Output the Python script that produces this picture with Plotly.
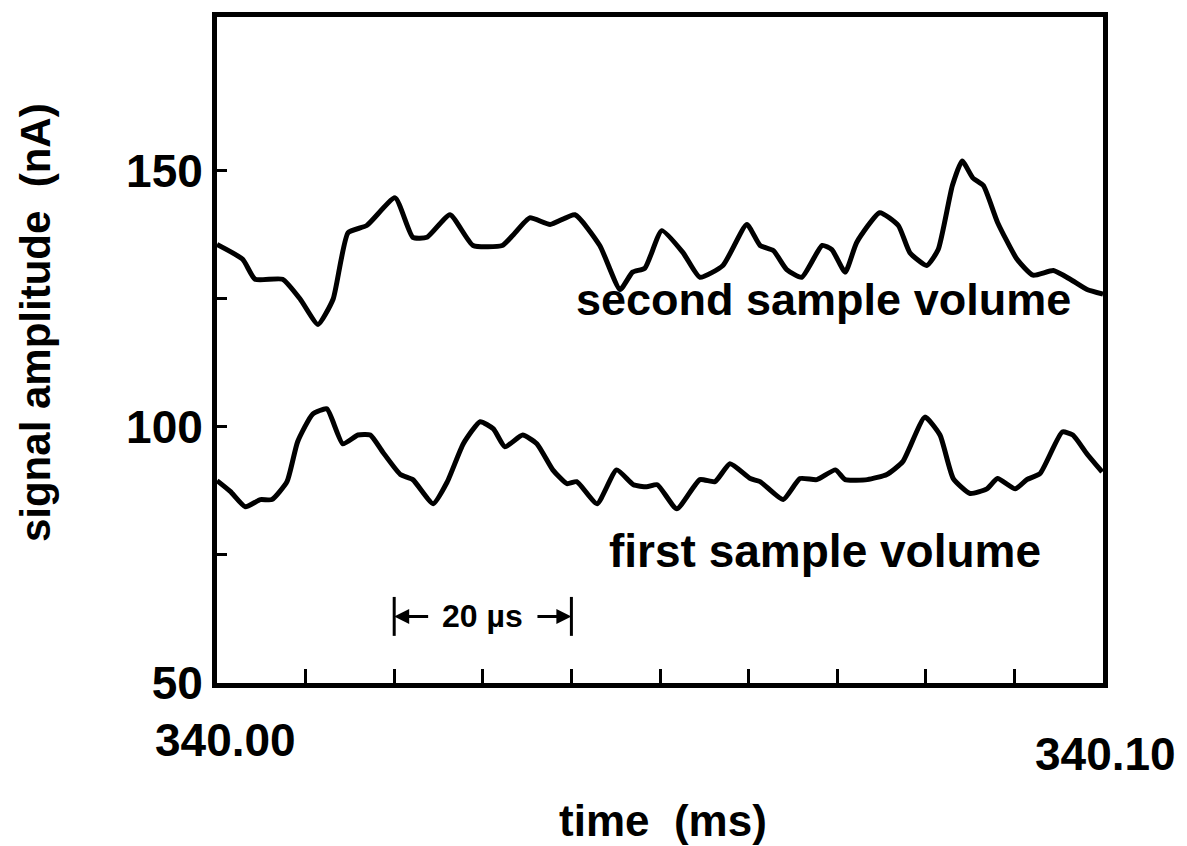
import plotly.graph_objects as go

# time offsets in microseconds after 340.00 ms
second_t_us = [0, 2.9, 4.3, 7.4, 9.4, 11.4, 13.1, 14.8, 16.9, 20.1, 22.1, 23.7, 26.3, 28.9,
               32.2, 33.4, 35.3, 37.6, 40.4, 43.2, 45.5, 46.9, 48.3, 50.2, 52.6, 54.5, 57.1,
               59.8, 61.3, 62.8, 64.3, 66.0, 68.3, 69.4, 70.9, 72.2, 74.8, 76.9, 78.2, 80.1,
               81.4, 83.0, 84.1, 85.3, 86.5, 88.1, 90.3, 92.1, 94.4, 96.3, 98.2, 100]
second_nA = [135.6, 132.7, 128.8, 128.8, 124.9, 120.0, 124.9, 137.9, 139.3, 144.7, 137.0, 137.0,
             141.4, 135.4, 135.4, 137.4, 140.8, 139.5, 141.4, 135.4, 126.8, 130.2, 131.0, 138.3,
             134.0, 129.2, 131.5, 139.5, 135.4, 134.4, 130.7, 129.2, 135.4, 134.6, 130.2, 136.0,
             141.8, 139.3, 134.0, 131.5, 134.6, 147.1, 151.9, 148.6, 147.1, 139.9, 132.7, 129.6,
             130.5, 128.8, 126.8, 125.9]

first_t_us = [0, 1.5, 3.2, 4.9, 6.2, 7.9, 9.1, 10.8, 12.4, 14.2, 15.9, 17.3, 18.7, 20.7, 22.1,
              24.4, 26.0, 27.8, 29.7, 31.2, 32.5, 34.5, 36.1, 37.9, 39.5, 40.6, 42.9, 45.1, 47.0,
              48.5, 49.7, 51.9, 54.5, 56.2, 57.9, 60.2, 61.3, 63.9, 65.8, 67.7, 69.8, 70.9, 73.4,
              75.6, 77.4, 79.9, 81.6, 83.1, 85.0, 86.9, 88.1, 90.1, 91.4, 92.9, 95.4, 96.6, 98.2,
              99.9]
first_nA = [89.5, 87.4, 84.4, 85.8, 85.8, 89.3, 97.1, 102.5, 103.5, 96.7, 98.4, 98.4, 95.1, 90.7,
            89.7, 85.0, 89.3, 96.7, 101.0, 99.6, 96.1, 98.4, 96.7, 91.6, 88.9, 89.3, 85.0, 91.6,
            88.7, 88.3, 88.7, 84.0, 89.7, 89.3, 92.8, 89.9, 89.3, 85.8, 89.9, 89.7, 91.6, 89.7,
            89.7, 90.7, 93.2, 101.9, 98.4, 89.9, 87.0, 87.9, 89.9, 87.9, 89.7, 90.9, 99.0, 98.4,
            94.7, 91.2]

t0_ms = 340.00
x_tick_vals = [340.00, 340.01, 340.02, 340.03, 340.04, 340.05, 340.06, 340.07, 340.08, 340.09, 340.10]
x_tick_labels = ["340.00", "340.10"]
y_tick_vals = [50, 75, 100, 125, 150]
y_tick_text = ["50", "", "100", "", "150"]
labels = ["second sample volume", "first sample volume"]
scale_bar_start_ms = 340.02
scale_bar_len_us = 20
scale_bar_y = 63

FONT = "Liberation Sans, Arial, sans-serif"


def to_ms(us_list):
    return [t0_ms + u / 1000.0 for u in us_list]


def txt(size):
    return dict(family=FONT, size=size, color="black", weight="bold")


fig = go.Figure()
fig.add_trace(go.Scatter(x=to_ms(second_t_us), y=second_nA, mode="lines",
                         line=dict(color="black", width=5, shape="spline", smoothing=0.5),
                         showlegend=False, hoverinfo="skip"))
fig.add_trace(go.Scatter(x=to_ms(first_t_us), y=first_nA, mode="lines",
                         line=dict(color="black", width=5, shape="spline", smoothing=0.5),
                         showlegend=False, hoverinfo="skip"))

A = dict(showarrow=False, xanchor="center", yanchor="middle")
annotations = []
# curve labels
annotations.append(dict(x=340.0685, y=124.9, xref="x", yref="y", text=labels[0], font=txt(45), **A))
annotations.append(dict(x=340.0686, y=75.7, xref="x", yref="y", text=labels[1], font=txt(46), **A))
# x tick labels
annotations.append(dict(x=x_tick_vals[0], y=-0.085, xref="x", yref="paper", text=x_tick_labels[0],
                        xshift=8, font=txt(46), **A))
annotations.append(dict(x=x_tick_vals[-1], y=-0.107, xref="x", yref="paper", text=x_tick_labels[1],
                        xshift=2, font=txt(46), **A))
# axis titles
annotations.append(dict(x=0.503, y=-0.207, xref="paper", yref="paper", text="time  (ms)",
                        font=txt(44), **A))
annotations.append(dict(x=-0.205, y=0.541, xref="paper", yref="paper", text="signal amplitude  (nA)",
                        textangle=-90, font=txt(42), **A))

# scale bar
sb_end = scale_bar_start_ms + scale_bar_len_us / 1000.0
sb_mid = (scale_bar_start_ms + sb_end) / 2
annotations.append(dict(x=sb_mid, y=scale_bar_y, xref="x", yref="y", text="20 µs",
                        bgcolor="white", borderpad=0, font=txt(32), **A))
for tip, tail in [(scale_bar_start_ms, scale_bar_start_ms + 0.004), (sb_end, sb_end - 0.004)]:
    annotations.append(dict(x=tip, y=scale_bar_y, ax=tail, ay=scale_bar_y, xref="x", yref="y",
                            axref="x", ayref="y", text="", showarrow=True, arrowhead=2,
                            arrowsize=1, arrowwidth=3, arrowcolor="black"))

shapes = [
    dict(type="line", xref="x", yref="y", x0=scale_bar_start_ms, x1=scale_bar_start_ms,
         y0=scale_bar_y - 3.8, y1=scale_bar_y + 3.8, line=dict(color="black", width=3)),
    dict(type="line", xref="x", yref="y", x0=sb_end, x1=sb_end,
         y0=scale_bar_y - 3.8, y1=scale_bar_y + 3.8, line=dict(color="black", width=3)),
]

fig.update_layout(
    width=1187, height=846,
    margin=dict(l=217, r=84, t=12, b=163),
    paper_bgcolor="white", plot_bgcolor="white",
    font=dict(family=FONT, size=44, color="black"),
    annotations=annotations, shapes=shapes,
    xaxis=dict(range=[340.0, 340.1], tickvals=x_tick_vals, showticklabels=False,
               ticks="inside", ticklen=14, tickwidth=3, tickcolor="black",
               showline=True, linewidth=5, linecolor="black", mirror=True,
               showgrid=False, zeroline=False),
    yaxis=dict(range=[50, 180], tickvals=y_tick_vals, ticktext=y_tick_text,
               ticks="inside", ticklen=10, tickwidth=3, tickcolor="black",
               tickfont=txt(46),
               showline=True, linewidth=5, linecolor="black", mirror=True,
               showgrid=False, zeroline=False),
)

fig.write_html("out.html")
